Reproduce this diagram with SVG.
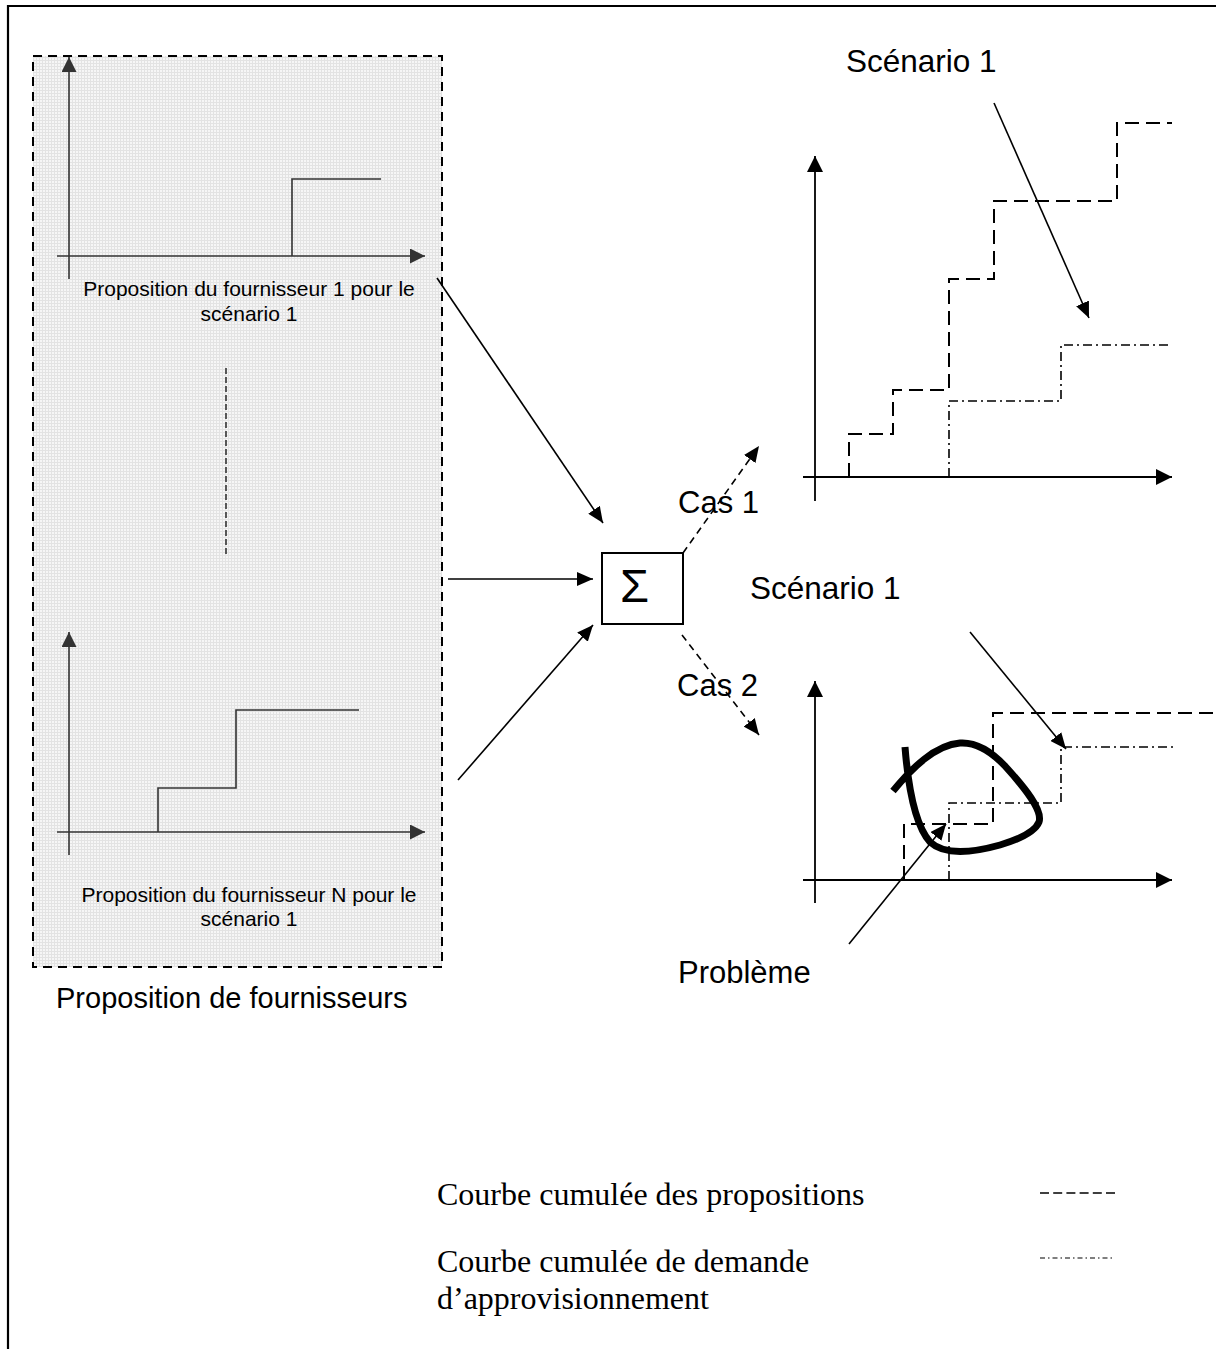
<svg xmlns="http://www.w3.org/2000/svg" width="1216" height="1349" viewBox="0 0 1216 1349">
<defs>
<pattern id="grid" width="3" height="3" patternUnits="userSpaceOnUse"><rect width="3" height="3" fill="#f6f6f6"/><path d="M0,0.5H3M0.5,0V3" stroke="#e3e3e3" stroke-width="1"/></pattern>
<marker id="ah" markerUnits="userSpaceOnUse" markerWidth="16" markerHeight="14" refX="16" refY="7" orient="auto"><path d="M0,0L16,7L0,14z" fill="#000"/></marker>
<marker id="ahg" markerUnits="userSpaceOnUse" markerWidth="15" markerHeight="15" refX="15" refY="7.5" orient="auto"><path d="M0,0L15,7.5L0,15z" fill="#333"/></marker>
<marker id="axb" markerUnits="userSpaceOnUse" markerWidth="16" markerHeight="16" refX="16" refY="8" orient="auto"><path d="M0,0L16,8L0,16z" fill="#000"/></marker>
</defs>
<style>
.sans{font-family:"Liberation Sans",Arial,sans-serif;fill:#000}
.serif{font-family:"Liberation Serif","Times New Roman",serif;fill:#000}
.gax{stroke:#333;stroke-width:1.6;fill:none}
.ax{stroke:#000;stroke-width:1.8;fill:none}
.prop{stroke:#000;stroke-width:2;fill:none;stroke-dasharray:14 7}
.dem{stroke:#000;stroke-width:1.6;fill:none;stroke-dasharray:9 4 2 4}
.conn{stroke:#000;stroke-width:1.6;fill:none}
.dconn{stroke:#000;stroke-width:1.6;fill:none;stroke-dasharray:7 5}
</style>
<rect width="1216" height="1349" fill="#fff"/>
<path d="M8,1349V6H1216" fill="none" stroke="#000" stroke-width="2.2"/>

<g id="suppliers">
<rect x="33" y="56" width="409" height="911" fill="url(#grid)" stroke="#000" stroke-width="2" stroke-dasharray="9 6"/>
<text class="sans" x="56" y="1008" font-size="29">Proposition de fournisseurs</text>
</g>

<g id="supplier1">
<line class="gax" x1="69" y1="279" x2="69" y2="57" marker-end="url(#ahg)"/>
<line class="gax" x1="57" y1="256" x2="425" y2="256" marker-end="url(#ahg)"/>
<polyline class="gax" points="292,256 292,179 381,179"/>
<text class="sans" font-size="21" text-anchor="middle"><tspan x="249" y="296">Proposition du fournisseur 1 pour le</tspan><tspan x="249" y="321">scénario 1</tspan></text>
</g>

<g id="ellipsis">
<line x1="226" y1="368" x2="226" y2="555" stroke="#333" stroke-width="1.6" stroke-dasharray="6 3"/>
</g>

<g id="supplierN">
<line class="gax" x1="69" y1="855" x2="69" y2="632" marker-end="url(#ahg)"/>
<line class="gax" x1="57" y1="832" x2="425" y2="832" marker-end="url(#ahg)"/>
<polyline class="gax" points="158,832 158,788 236,788 236,710 359,710"/>
<text class="sans" font-size="21" text-anchor="middle"><tspan x="249" y="902">Proposition du fournisseur N pour le</tspan><tspan x="249" y="926">scénario 1</tspan></text>
</g>

<g id="sum">
<rect x="602" y="553" width="81" height="71" fill="#fff" stroke="#000" stroke-width="2"/>
<text class="sans" x="620" y="602" font-size="47">Σ</text>
</g>

<g id="case1">
<text class="sans" x="846" y="72" font-size="31.5">Scénario 1</text>
<line class="ax" x1="815" y1="501" x2="815" y2="156" marker-end="url(#axb)"/>
<line class="ax" x1="803" y1="477" x2="1172" y2="477" marker-end="url(#axb)"/>
<polyline class="prop" points="849,477 849,434 893,434 893,390 949,390 949,279 994,279 994,201 1117,201 1117,123 1172,123"/>
<polyline class="dem" points="949,477 949,401 1061,401 1061,345 1172,345"/>
<line class="conn" x1="994" y1="103" x2="1089" y2="318" marker-end="url(#ah)"/>
</g>

<g id="case2">
<text class="sans" x="750" y="599" font-size="31.5">Scénario 1</text>
<line class="ax" x1="815" y1="903" x2="815" y2="681" marker-end="url(#axb)"/>
<line class="ax" x1="803" y1="880" x2="1172" y2="880" marker-end="url(#axb)"/>
<polyline class="prop" points="904,880 904,824 993,824 993,713 1216,713"/>
<polyline class="dem" points="949,880 949,803 1061,803 1061,747 1173,747"/>
<path d="M905,747C908,785 915,825 930,842C945,856 975,852 1000,845C1020,839 1035,832 1039,822C1043,810 1025,788 1005,766C990,750 975,742 960,743C935,745 912,768 893,791" fill="none" stroke="#000" stroke-width="7"/>
<line class="conn" x1="970" y1="632" x2="1066" y2="749" marker-end="url(#ah)"/>
<line class="conn" x1="849" y1="944" x2="946" y2="824" marker-end="url(#ah)"/>
<text class="sans" x="678" y="983" font-size="31">Problème</text>
</g>

<g id="connectors">
<line class="conn" x1="437" y1="278" x2="603" y2="523" marker-end="url(#ah)"/>
<line class="conn" x1="448" y1="579" x2="593" y2="579" marker-end="url(#ah)"/>
<line class="conn" x1="458" y1="780" x2="593" y2="625" marker-end="url(#ah)"/>
<line class="dconn" x1="683" y1="553" x2="759" y2="446" marker-end="url(#ah)"/>
<line class="dconn" x1="682" y1="635" x2="759" y2="735" marker-end="url(#ah)"/>
<text class="sans" x="678" y="513" font-size="31">Cas 1</text>
<text class="sans" x="677" y="696" font-size="31">Cas 2</text>
</g>

<g id="legend">
<text class="serif" x="437" y="1205" font-size="32">Courbe cumulée des propositions</text>
<line x1="1040" y1="1193" x2="1115" y2="1193" stroke="#000" stroke-width="1.5" stroke-dasharray="9 4.2"/>
<text class="serif" font-size="32"><tspan x="437" y="1272">Courbe cumulée de demande</tspan><tspan x="437" y="1309">d’approvisionnement</tspan></text>
<line x1="1040" y1="1258" x2="1112" y2="1258" stroke="#000" stroke-width="1.2" stroke-dasharray="5 3 1.5 3"/>
</g>
</svg>
